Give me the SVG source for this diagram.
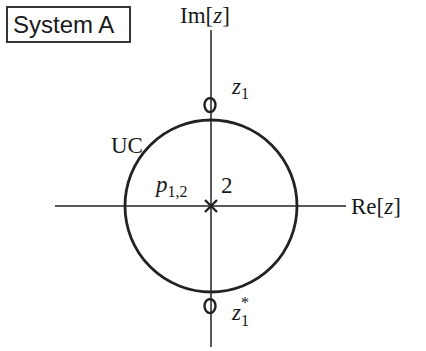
<svg xmlns="http://www.w3.org/2000/svg" width="426" height="351" viewBox="0 0 426 351">
<style>
.ax{stroke:#222;stroke-width:1.5;fill:none}
.c{stroke:#222;stroke-width:2.8;fill:none}
.t{font-family:"Liberation Serif","DejaVu Serif",serif;font-size:23px;fill:#1a1a1a}
.i{font-style:italic}
.s{font-size:16px;font-style:normal}
</style>
<rect width="426" height="351" fill="#fff"/>
<g id="label">
<rect x="7" y="7" width="123" height="35" fill="none" stroke="#222" stroke-width="1.8"/>
<text x="13" y="33" font-family="Liberation Sans, Arial, sans-serif" font-size="24" fill="#1a1a1a">System A</text>
</g>
<g id="axes">
<line class="ax" x1="211" y1="30" x2="211" y2="347"/>
<line class="ax" x1="55" y1="206" x2="346" y2="206"/>
<text class="t" x="180" y="23">Im[<tspan class="i">z</tspan>]</text>
<text class="t" x="351" y="214">Re[<tspan class="i">z</tspan>]</text>
</g>
<g id="uc">
<circle class="c" cx="211" cy="206" r="86"/>
<text class="t" x="111" y="153">UC</text>
</g>
<g id="z1">
<ellipse cx="210" cy="105" rx="5.5" ry="7" fill="none" stroke="#222" stroke-width="2.4"/>
<text class="t i" x="232" y="94">z<tspan class="s" dy="5">1</tspan></text>
</g>
<g id="z1c">
<ellipse cx="210" cy="306" rx="5.5" ry="7" fill="none" stroke="#222" stroke-width="2.4"/>
<text class="t i" x="232" y="320">z<tspan class="s" dy="6">1</tspan><tspan class="s" dx="-8" dy="-18">*</tspan></text>
</g>
<g id="p12">
<path d="M205 200 L217 212 M217 200 L205 212" stroke="#222" stroke-width="2.4"/>
<text class="t i" x="156" y="192">p<tspan class="s" dy="5">1,2</tspan></text>
<text class="t" x="221" y="193">2</text>
</g>
</svg>
